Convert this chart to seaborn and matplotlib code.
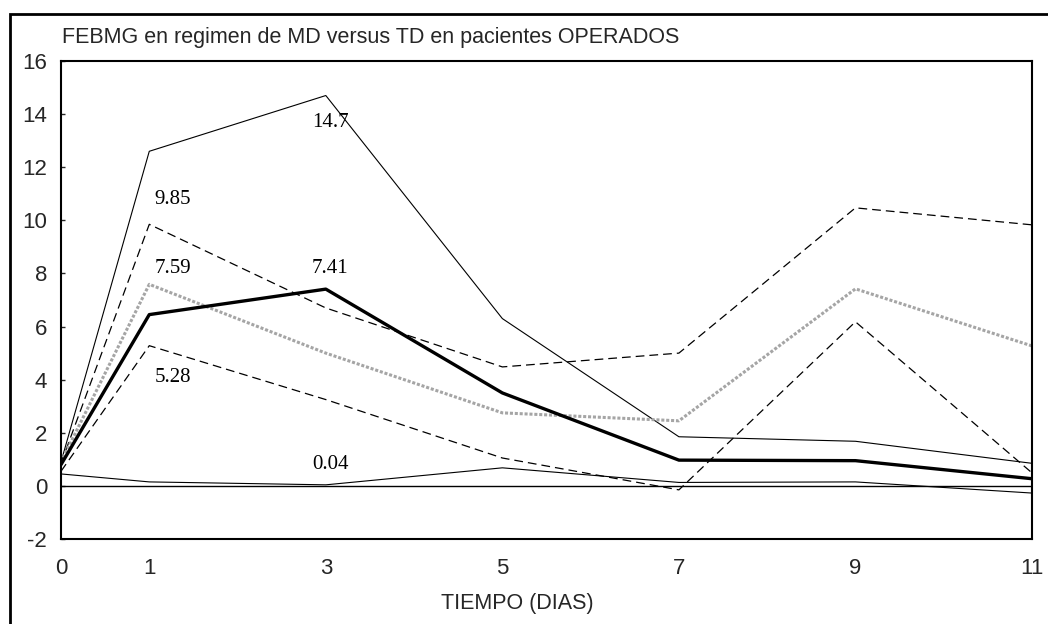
import matplotlib
matplotlib.use("Agg")
import matplotlib.pyplot as plt
import seaborn as sns
import pandas as pd
from matplotlib.patches import Rectangle

# ---- data ----
dias = [0, 1, 3, 5, 7, 9, 11]
media = [0.80, 6.45, 7.41, 3.50, 0.97, 0.95, 0.27]
sup_solid = [0.90, 12.60, 14.70, 6.30, 1.85, 1.68, 0.85]
sup_dash = [0.85, 9.85, 6.70, 4.48, 5.00, 10.47, 9.83]
gris = [0.90, 7.59, 5.00, 2.75, 2.45, 7.42, 5.27]
inf_dash = [0.55, 5.28, 3.25, 1.05, -0.15, 6.18, 0.49]
inf_solid = [0.45, 0.15, 0.04, 0.68, 0.13, 0.15, -0.27]

label_texts = ["14.7", "9.85", "7.59", "7.41", "5.28", "0.04"]
label_x = [3.05, 1.27, 1.27, 3.05, 1.27, 3.05]
label_y = [13.67, 10.77, 8.20, 8.20, 4.07, 0.79]

y_ticks = [-2, 0, 2, 4, 6, 8, 10, 12, 14, 16]
x_ticks = [0, 1, 3, 5, 7, 9, 11]

title = "FEBMG en regimen de MD versus TD en pacientes OPERADOS"
xlabel = "TIEMPO (DIAS)"

sns.set_theme(style="white")
plt.rcParams['font.family'] = ['Liberation Sans', 'DejaVu Sans']

fig = plt.figure(figsize=(10.48, 6.24), dpi=100)
ax = fig.add_axes([61/1048, 85/624, (1032-61)/1048, (539-61)/624])

series = [
    (sup_solid, dict(color="black", lw=0.8, ls="-")),
    (sup_dash, dict(color="black", lw=0.9, ls=(0, (7, 4)))),
    (gris, dict(color="#a5a5a5", lw=2.2, ls=(0, (1, 0.6)))),
    (inf_dash, dict(color="black", lw=0.9, ls=(0, (7, 4)))),
    (inf_solid, dict(color="black", lw=0.8, ls="-")),
    (media, dict(color="black", lw=2.4, ls="-")),
]
for vals, st in series:
    df = pd.DataFrame({"dia": dias, "v": vals})
    sns.lineplot(data=df, x="dia", y="v", ax=ax, color=st["color"],
                 linewidth=st["lw"], linestyle=st["ls"], legend=False)

ax.axhline(0, color="black", lw=1.0, zorder=1)

for t, xx, yy in zip(label_texts, label_x, label_y):
    ax.text(xx, yy, t, ha="center", va="center", fontsize=15,
            family=["Liberation Serif", "DejaVu Serif"], color="black")

ax.set_xlim(0, 11)
ax.set_ylim(-2, 16)
ax.set_xticks(x_ticks)
ax.set_yticks(y_ticks)
ax.set_xticklabels([str(v) for v in x_ticks], fontsize=16)
ax.set_yticklabels([str(v) for v in y_ticks], fontsize=16)
ax.tick_params(axis="y", direction="in", length=3, width=1, pad=10, left=True)
ax.tick_params(axis="x", length=0, pad=14)
ax.set_xlabel("")
ax.set_ylabel("")
for s in ax.spines.values():
    s.set_color("black")
    s.set_linewidth(1.5)

fig.text(62/1048, 1 - 38/624, title, ha="left", va="center", fontsize=15.5)
fig.text(517/1048, 1 - 603/624, xlabel, ha="center", va="center", fontsize=15.5)

frame = Rectangle((10/1048, -0.2), 1.5, (624-14)/624 + 0.2, transform=fig.transFigure,
                  fill=False, edgecolor="black", lw=2.0)
fig.patches.append(frame)

fig.savefig("out.png", dpi=100, facecolor="white")
